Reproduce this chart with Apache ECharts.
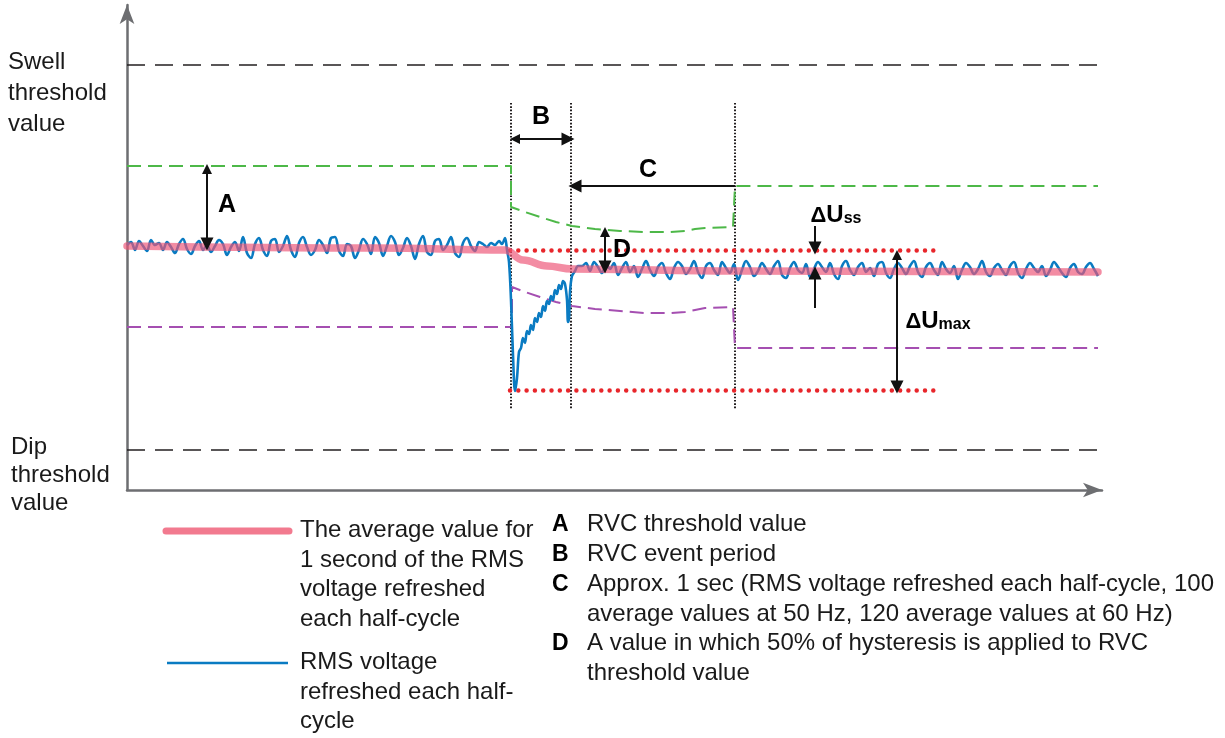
<!DOCTYPE html>
<html>
<head>
<meta charset="utf-8">
<script src="https://cdn.jsdelivr.net/npm/echarts@6/dist/echarts.min.js"></script>
<style>html,body{margin:0;padding:0;background:#fff;}#c{width:1225px;height:738px;}</style>
</head>
<body>
<div id="c"></div>
<script>
// ---- data (x: time units, y: voltage units; schematic) ----
const swellLevel = 425;
const dipLevel = 40;
const sampleStep = 4;
const preStart = 0;
const preValues = [
245,248,240,249,244,239,250,245,247,240,248,243,237,246,251,241,236,244,249,240,
245,238,244,250,246,235,243,248,239,253,237,232,246,252,240,234,249,251,238,244,
254,240,233,247,253,243,235,240,250,245,237,252,253,239,234,246,244,232,240,251,
246,236,253,247,234,244,254,248,235,242,252,244,231,246,254,238,235,249,251,240,
245,253,237,233,247,252,244,239,248,246,243,247,245,249
];
const eventPoints = [
[375,246],[378,252],[380,240],[382,228],[384,190],[386,135],[388,99],[390,112],[392,138],[394,142],
[396,152],[398,147],[400,159],[402,156],[404,165],[406,160],[408,172],[410,168],[412,177],[414,173],
[416,184],[418,179],[420,189],[422,186],[424,194],[426,190],[428,200],[430,196],[432,205],[434,201],
[436,209],[438,206],[440,190],[441,168],[442,172],[443,198],[445,214],[448,219],[451,224]
];
const postStart = 455;
const postValues = [
224,227,219,228,223,217,226,221,227,215,222,228,218,224,213,221,229,220,214,223,
227,217,211,222,228,224,216,221,229,218,212,224,227,220,215,228,222,217,226,210,
220,229,223,214,219,227,221,216,224,229,215,212,222,228,220,217,226,213,221,228,
223,218,227,216,211,224,229,220,215,223,227,218,222,214,226,228,217,212,221,227,
222,216,224,229,218,213,223,227,220,215,228,221,217,224,211,220,227,223,216,221,
229,218,214,222,226,220,215,224,228,217,212,221,227,222,218,224,214,220,228,223,
217,213,222,226,218,216,223,227,221,214
];
const averagePoints = [[0,244],[250,242],[378,240],[396,230],[420,224],[445,221],[608,219],[971,218]];
const upperRvcPoints = [
[0,324],[384,324],[384,283],[398,278],[413,273],[429,268],[445,264],[468,261],[493,259],[518,258],
[543,258],[558,259],[568,261],[578,262],[606,263],[608,304],[971,304]
];
const lowerRvcPoints = [
[0,163],[385,163],[385,203],[398,198],[413,193],[429,188],[445,184],[468,181],[493,179],[518,177],
[543,177],[558,178],[568,180],[578,182],[606,183],[608,142],[971,142]
];
const markerTimes = [384, 444, 608];
const markerRange = [387, 80];
const dottedLevels = [240, 100];
const dottedRange = [383, 813];
const arrowsDouble = [
  [[80,321],[80,246]],     // A
  [[388,351],[441,351]],   // B
  [[478,258],[478,223]],   // D
  [[770,235],[770,103]]    // ΔUmax
];
const arrowsSingle = [
  [[608,304],[448,304]],   // C
  [[688,264],[688,242]],   // ΔUss down
  [[688,182],[688,217]]    // ΔUss up
];
const annotationLabels = [
  [100,285,'A'],[414,373,'B'],[521,320,'C'],[495,240,'D'],[709,276,'Uss'],[811,170,'Umax']
];

const FONT = '"Liberation Sans", Arial, Helvetica, sans-serif';
const TXT = '#1a1a1a';

const blueData = preValues.map((v,i)=>[preStart+i*sampleStep, v])
  .concat(eventPoints)
  .concat(postValues.map((v,i)=>[postStart+i*sampleStep, v]));

const chart = echarts.init(document.getElementById('c'), null, {renderer:'canvas'});
const axisCommon = {
  axisTick:{show:false}, axisLabel:{show:false}, splitLine:{show:false},
  axisLine:{show:true, symbol:['none','arrow'], symbolSize:[11,19], lineStyle:{color:'#6d6e71', width:2.5}}
};
const deltaRich = {
  d:{fontFamily:FONT, fontSize:22, color:'#000', verticalAlign:'bottom', lineHeight:26},
  u:{fontFamily:FONT, fontSize:24, fontWeight:'bold', color:'#000', verticalAlign:'bottom', lineHeight:26},
  s:{fontFamily:FONT, fontSize:16, fontWeight:'bold', color:'#000', verticalAlign:'bottom', lineHeight:24}
};
chart.setOption({
  animation:false,
  backgroundColor:'#ffffff',
  grid:{left:127, top:5, right:123, bottom:248, containLabel:false},
  xAxis:Object.assign({type:'value', min:0, max:975}, axisCommon),
  yAxis:Object.assign({type:'value', min:0, max:485}, axisCommon),
  series:[
    {type:'line', silent:true, symbol:'none', data:[[0,swellLevel],[971,swellLevel]],
     lineStyle:{color:'#231f20', width:1.5, type:[18,10]}},
    {type:'line', silent:true, symbol:'none', data:[[0,dipLevel],[971,dipLevel]],
     lineStyle:{color:'#231f20', width:1.5, type:[18,10]}},
    {type:'line', silent:true, symbol:'none', data:upperRvcPoints,
     lineStyle:{color:'#4db848', width:2, type:[14,7]}},
    {type:'line', silent:true, symbol:'none', data:lowerRvcPoints,
     lineStyle:{color:'#a54fb1', width:2, type:[14,7]}},
    {type:'lines', coordinateSystem:'cartesian2d', silent:true, symbol:'none', z:3,
     data:markerTimes.map(t=>({coords:[[t,markerRange[0]],[t,markerRange[1]]]})),
     lineStyle:{color:'#231f20', width:2, type:[1.6,1.7], opacity:1}},
    {type:'lines', coordinateSystem:'cartesian2d', silent:true, symbol:'none', z:3,
     data:dottedLevels.map(v=>({coords:[[dottedRange[0],v],[dottedRange[1],v]]})),
     lineStyle:{color:'#e8262b', width:4.5, type:[0,8.3], cap:'round', opacity:1}},
    {type:'line', silent:true, symbol:'none', data:blueData, smooth:0.35, z:4,
     lineStyle:{color:'#0a7bc2', width:2.6}},
    {type:'line', silent:true, symbol:'none', data:averagePoints, smooth:0.4, smoothMonotone:'x', z:5,
     lineStyle:{color:'#ee5577', width:7.5, opacity:0.68, cap:'round'}},
    {type:'lines', coordinateSystem:'cartesian2d', silent:true, z:6,
     symbol:['triangle','triangle'], symbolSize:[10,13],
     data:arrowsDouble.map(c=>({coords:c})),
     lineStyle:{color:'#111', width:2, opacity:1}},
    {type:'lines', coordinateSystem:'cartesian2d', silent:true, z:6,
     symbol:['none','triangle'], symbolSize:[10,13],
     data:arrowsSingle.map(c=>({coords:c})),
     lineStyle:{color:'#111', width:2, opacity:1}},
    {type:'scatter', silent:true, symbolSize:1, z:7, itemStyle:{color:'#ffffff', opacity:0},
     data:annotationLabels,
     label:{show:true, position:'inside', color:'#000', opacity:1,
       formatter:p=>{
         const t=p.data[2];
         if(t==='Uss') return '{d|\u0394}{u|U}{s|ss}';
         if(t==='Umax') return '{d|\u0394}{u|U}{s|max}';
         return t;
       },
       fontFamily:FONT, fontSize:25, fontWeight:'bold', rich:deltaRich}}
  ],
  graphic:[
    {type:'text', left:8, top:47, silent:true,
     style:{text:'Swell\nthreshold\nvalue', font:'24px '+FONT, fill:TXT, lineHeight:31}},
    {type:'text', left:11, top:433, silent:true,
     style:{text:'Dip\nthreshold\nvalue', font:'24px '+FONT, fill:TXT, lineHeight:28}},
    {type:'line', silent:true, shape:{x1:166,y1:531,x2:289,y2:531},
     style:{stroke:'#f27a8f', lineWidth:7, lineCap:'round'}},
    {type:'line', silent:true, shape:{x1:167,y1:663,x2:288,y2:663},
     style:{stroke:'#0a7bc2', lineWidth:2.5}},
    {type:'text', left:300, top:516, silent:true,
     style:{text:'The average value for\n1 second of the RMS\nvoltage refreshed\neach half-cycle', font:'24px '+FONT, fill:TXT, lineHeight:29.5}},
    {type:'text', left:300, top:648, silent:true,
     style:{text:'RMS voltage\nrefreshed each half-\ncycle', font:'24px '+FONT, fill:TXT, lineHeight:29.5}},
    {type:'text', left:552, top:510, silent:true,
     style:{text:'A\nB\nC\n\nD', font:'bold 23px '+FONT, fill:'#000', lineHeight:29.7}},
    {type:'text', left:587, top:510, silent:true,
     style:{text:'RVC threshold value\nRVC event period\nApprox. 1 sec (RMS voltage refreshed each half-cycle, 100\naverage values at 50 Hz, 120 average values at 60 Hz)\nA value in which 50% of hysteresis is applied to RVC\nthreshold value', font:'24px '+FONT, fill:TXT, lineHeight:29.7}}
  ]
});
</script>
</body>
</html>
